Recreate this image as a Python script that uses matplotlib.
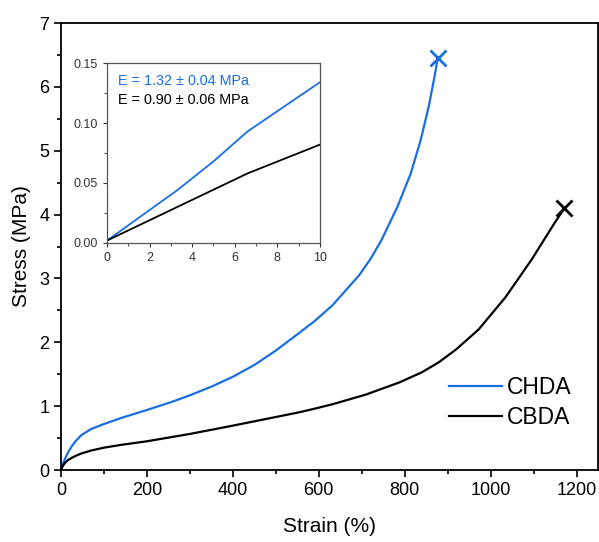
import numpy as np
import matplotlib
matplotlib.use("Agg")
import matplotlib.pyplot as plt
from matplotlib.ticker import MultipleLocator

plt.rcParams["font.family"] = ["Liberation Sans", "DejaVu Sans"]

# stress-strain curves
chda_strain = [0, 4, 9, 16, 25, 35, 48, 71, 100, 140, 200, 257, 300, 350, 400,
               450, 500, 555, 590, 632, 694, 720, 746, 783, 814, 837, 856, 870, 877]
chda_stress = [0, 0.09, 0.17, 0.27, 0.37, 0.46, 0.55, 0.645, 0.72, 0.815, 0.94,
               1.065, 1.17, 1.305, 1.46, 1.645, 1.87, 2.15, 2.33, 2.58, 3.05,
               3.3, 3.6, 4.12, 4.64, 5.16, 5.69, 6.18, 6.45]
cbda_strain = [0, 4, 9, 16, 25, 35, 48, 70, 100, 141, 200, 300, 400, 500, 555,
               590, 632, 709, 787, 840, 880, 920, 972, 1034, 1096, 1150, 1172]
cbda_stress = [0, 0.06, 0.11, 0.155, 0.19, 0.225, 0.26, 0.305, 0.35, 0.395, 0.45,
               0.565, 0.695, 0.83, 0.905, 0.96, 1.03, 1.18, 1.37, 1.53, 1.69,
               1.89, 2.2, 2.7, 3.3, 3.88, 4.1]

# inset: low strain region
chda_in_x = [0, 3.3, 5, 6.6, 10]
chda_in_y = [0.002, 0.044, 0.068, 0.093, 0.134]
cbda_in_x = [0, 6.6, 10]
cbda_in_y = [0.002, 0.058, 0.082]

labels = ["CHDA", "CBDA"]
moduli = ["E = 1.32 ± 0.04 MPa", "E = 0.90 ± 0.06 MPa"]

blue = "#1a6fdf"
black = "#000000"

fig = plt.figure(figsize=(5.99, 5.42), dpi=100)
ax = fig.add_axes([0.1018, 0.1328, 0.8965, 0.8247])

ax.plot(chda_strain, chda_stress, color=blue, lw=1.6, label=labels[0])
ax.plot(cbda_strain, cbda_stress, color=black, lw=1.6, label=labels[1])
ax.plot(chda_strain[-1], chda_stress[-1], marker="x", color=blue, ms=12, mew=2)
ax.plot(cbda_strain[-1], cbda_stress[-1], marker="x", color=black, ms=12, mew=2)

ax.set_xlim(0, 1250)
ax.set_ylim(0, 7)
ax.xaxis.set_major_locator(MultipleLocator(200))
ax.xaxis.set_minor_locator(MultipleLocator(100))
ax.yaxis.set_major_locator(MultipleLocator(1))
ax.yaxis.set_minor_locator(MultipleLocator(0.5))
ax.tick_params(which="major", direction="out", length=5, width=1.2, labelsize=13)
ax.tick_params(which="minor", direction="out", length=3, width=1.2)
for s in ax.spines.values():
    s.set_linewidth(1.3)
ax.set_xlabel("Strain (%)", fontsize=15, labelpad=13)
ax.set_ylabel("Stress (MPa)", fontsize=15, labelpad=6)

ax.legend(loc="lower right", bbox_to_anchor=(0.99, 0.045), frameon=False,
          fontsize=16.5, handlelength=2.3, handletextpad=0.25, labelspacing=0.3)

# inset
ins = fig.add_axes([0.1786, 0.5517, 0.3556, 0.332])
ins.plot(chda_in_x, chda_in_y, color=blue, lw=1.3)
ins.plot(cbda_in_x, cbda_in_y, color=black, lw=1.3)
ins.set_xlim(0, 10)
ins.set_ylim(0, 0.15)
ins.xaxis.set_major_locator(MultipleLocator(2))
ins.xaxis.set_minor_locator(MultipleLocator(1))
ins.yaxis.set_major_locator(MultipleLocator(0.05))
ins.yaxis.set_minor_locator(MultipleLocator(0.025))
ins.yaxis.set_major_formatter(plt.FormatStrFormatter("%.2f"))
ins.tick_params(which="major", direction="out", length=3, width=0.8,
                labelsize=9, colors="#333333")
ins.tick_params(which="minor", direction="out", length=2, width=0.8, colors="#555555")
for s in ins.spines.values():
    s.set_color("#555555")
    s.set_linewidth(0.9)
ins.text(0.05, 0.9, moduli[0], transform=ins.transAxes, color=blue,
         fontsize=10.4, va="center")
ins.text(0.05, 0.795, moduli[1], transform=ins.transAxes, color=black,
         fontsize=10.4, va="center")

fig.savefig("out.png", dpi=100)
